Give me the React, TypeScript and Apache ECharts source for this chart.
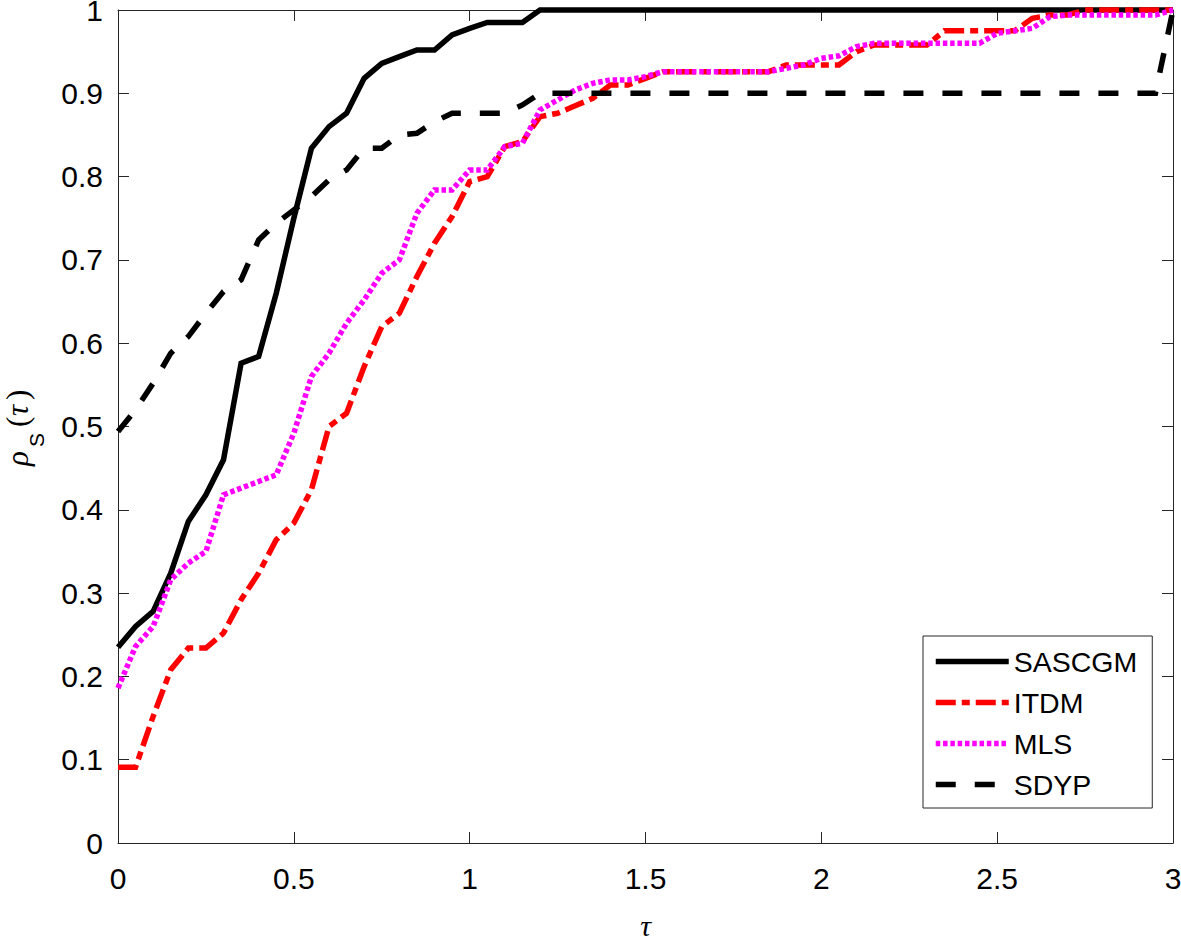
import React, { useEffect, useRef } from "react";
import * as echarts from "echarts";

const tau = [0, 0.05, 0.1, 0.15, 0.2, 0.25, 0.3, 0.35, 0.4, 0.45, 0.5, 0.55, 0.6, 0.65, 0.7, 0.75, 0.8, 0.85, 0.9, 0.95, 1, 1.05, 1.1, 1.15, 1.2, 1.25, 1.3, 1.35, 1.4, 1.45, 1.5, 1.55, 1.6, 1.65, 1.7, 1.75, 1.8, 1.85, 1.9, 1.95, 2, 2.05, 2.1, 2.15, 2.2, 2.25, 2.3, 2.35, 2.4, 2.45, 2.5, 2.55, 2.6, 2.65, 2.7, 2.75, 2.8, 2.85, 2.9, 2.95, 3];

const sascgm = [
  0.235, 0.26, 0.278, 0.324, 0.386, 0.418, 0.46, 0.576, 0.584, 0.66,
  0.75, 0.834, 0.86, 0.876, 0.918, 0.936, 0.944, 0.952, 0.952, 0.97,
  0.978, 0.985, 0.985, 0.985,
  1, 1, 1, 1, 1, 1, 1, 1, 1, 1, 1, 1, 1, 1, 1, 1, 1, 1, 1, 1, 1, 1, 1, 1, 1, 1, 1, 1, 1, 1, 1, 1, 1, 1, 1, 1, 1,
];

const itdm = [
  0.091, 0.091, 0.152, 0.208, 0.234, 0.234, 0.252, 0.292, 0.324, 0.364,
  0.384, 0.424, 0.5, 0.516, 0.572, 0.62, 0.636, 0.68, 0.72, 0.752,
  0.794, 0.8, 0.836, 0.842, 0.872, 0.876, 0.885, 0.894, 0.91, 0.91,
  0.918, 0.926, 0.926, 0.926, 0.926, 0.926, 0.926, 0.926, 0.934, 0.934,
  0.934, 0.934, 0.95, 0.958, 0.958, 0.958, 0.958, 0.975, 0.975, 0.975,
  0.975, 0.975, 0.99, 0.994, 0.994, 1, 1, 1, 1, 1,
  1,
];

const mls = [
  0.186, 0.236, 0.26, 0.316, 0.336, 0.35, 0.418, 0.426, 0.434, 0.442,
  0.492, 0.56, 0.588, 0.624, 0.652, 0.684, 0.7, 0.756, 0.784, 0.784,
  0.808, 0.808, 0.836, 0.84, 0.88, 0.892, 0.904, 0.912, 0.916, 0.916,
  0.92, 0.926, 0.926, 0.926, 0.926, 0.926, 0.926, 0.926, 0.93, 0.934,
  0.942, 0.945, 0.956, 0.96, 0.96, 0.96, 0.96, 0.96, 0.96, 0.96,
  0.972, 0.975, 0.978, 0.992, 0.994, 0.994, 0.994, 0.994, 0.994, 0.994,
  1,
];

const sdyp = [
  0.494, 0.52, 0.552, 0.588, 0.608, 0.636, 0.662, 0.676, 0.724, 0.744,
  0.76, 0.776, 0.796, 0.808, 0.834, 0.834, 0.85, 0.852, 0.866, 0.876,
  0.876, 0.876, 0.876, 0.886, 0.9,
  0.9, 0.9, 0.9, 0.9, 0.9, 0.9, 0.9, 0.9, 0.9, 0.9, 0.9, 0.9, 0.9, 0.9, 0.9, 0.9, 0.9, 0.9, 0.9, 0.9, 0.9, 0.9, 0.9, 0.9, 0.9, 0.9, 0.9, 0.9, 0.9, 0.9, 0.9, 0.9, 0.9, 0.9, 0.9,
  1,
];

const seriesNames = ["SASCGM", "ITDM", "MLS", "SDYP"];
const seriesColors = ["#000000", "#ff0000", "#ff00ff", "#000000"];
const seriesDash: any[] = ["solid", [20, 6, 8, 6], [4.5, 2.8], [20, 19]];
const seriesValues = [sascgm, itdm, mls, sdyp];
const xTicks = { min: 0, max: 3, interval: 0.5 };
const yTicks = { min: 0, max: 1, interval: 0.1 };

const SANS = "'Liberation Sans', Arial, Helvetica, sans-serif";
const SERIF = "'Liberation Serif', 'Times New Roman', serif";
const AXIS = "#262626";
const LW = 5.5;

function pairs(ys: number[]) {
  return tau.map((t, i) => [t, ys[i]]);
}

export default function App() {
  const ref = useRef<HTMLDivElement>(null);
  useEffect(() => {
    if (!ref.current) return;
    const chart = echarts.init(ref.current, undefined, { renderer: "svg" });
    const baseAxis = {
      axisLine: { show: true, onZero: false, lineStyle: { color: AXIS, width: 1 } },
      axisTick: { show: true, inside: true, length: 11, lineStyle: { color: AXIS, width: 1 } },
      splitLine: { show: false },
    };
    chart.setOption({
      animation: false,
      backgroundColor: "#ffffff",
      grid: { left: 118, right: 8, top: 10, bottom: 98, containLabel: false, outerBoundsMode: "none" },
      xAxis: [
        {
          type: "value",
          ...xTicks,
          position: "bottom",
          ...baseAxis,
          axisLabel: { show: true, fontFamily: SANS, fontSize: 30, color: "#000", margin: 20 },
          name: "τ",
          nameLocation: "middle",
          nameGap: 67,
          nameTextStyle: { fontFamily: SERIF, fontStyle: "italic", fontSize: 30, lineHeight: 30, color: "#000" },
        },
        {
          type: "value",
          ...xTicks,
          position: "top",
          ...baseAxis,
          axisLabel: { show: false },
        },
      ],
      yAxis: [
        {
          type: "value",
          ...yTicks,
          position: "left",
          ...baseAxis,
          axisLabel: {
            show: true,
            fontFamily: SANS,
            fontSize: 30,
            lineHeight: 20,
            padding: [4, 0, 0, 0],
            color: "#000",
            margin: 15,
          },
        },
        {
          type: "value",
          ...yTicks,
          position: "right",
          ...baseAxis,
          axisLabel: { show: false },
        },
      ],
      legend: {
        show: true,
        orient: "vertical",
        left: 923,
        top: 636,
        data: seriesNames.map((n, i) => ({
          name: n,
          itemStyle: { opacity: 0 },
          lineStyle: { color: seriesColors[i], width: LW, type: seriesDash[i], cap: "butt" },
        })),
        itemWidth: 73,
        itemHeight: 28,
        itemGap: 12,
        padding: [11, 15, 9, 10],
        borderColor: AXIS,
        borderWidth: 1,
        backgroundColor: "#ffffff",
        borderRadius: 0,
        itemStyle: { opacity: 0 },
        textStyle: { fontFamily: SANS, fontSize: 28.5, color: "#000" },
        selectedMode: false,
      },
      graphic: [
        {
          type: "group",
          x: 28,
          y: 466,
          rotation: Math.PI / 2,
          silent: true,
          children: [
            { type: "text", x: 0, y: -11, style: { text: "ρ", font: `italic 31px ${SERIF}`, fill: "#000", verticalAlign: "middle", align: "left" } },
            { type: "text", x: 19, y: 8, style: { text: "S", font: `21px ${SANS}`, fill: "#000", verticalAlign: "middle", align: "left" } },
            { type: "text", x: 39, y: -11, style: { text: "(", font: `31px ${SERIF}`, fill: "#000", verticalAlign: "middle", align: "left" } },
            { type: "text", x: 50, y: -11, style: { text: "τ", font: `italic 31px ${SERIF}`, fill: "#000", verticalAlign: "middle", align: "left" } },
            { type: "text", x: 66, y: -11, style: { text: ")", font: `31px ${SERIF}`, fill: "#000", verticalAlign: "middle", align: "left" } },
          ],
        },
      ],
      series: seriesNames.map((name, i) => ({
        name,
        type: "line",
        data: pairs(seriesValues[i]),
        symbol: "none",
        showSymbol: false,
        clip: false,
        lineStyle: { color: seriesColors[i], width: LW, type: seriesDash[i], cap: "butt", join: "miter" },
        itemStyle: { color: seriesColors[i] },
        emphasis: { disabled: true },
      })),
    });
    return () => chart.dispose();
  }, []);
  return (
    <div
      ref={ref}
      style={{ position: "fixed", left: 0, top: 0, width: 1181, height: 941, background: "#fff" }}
    />
  );
}
